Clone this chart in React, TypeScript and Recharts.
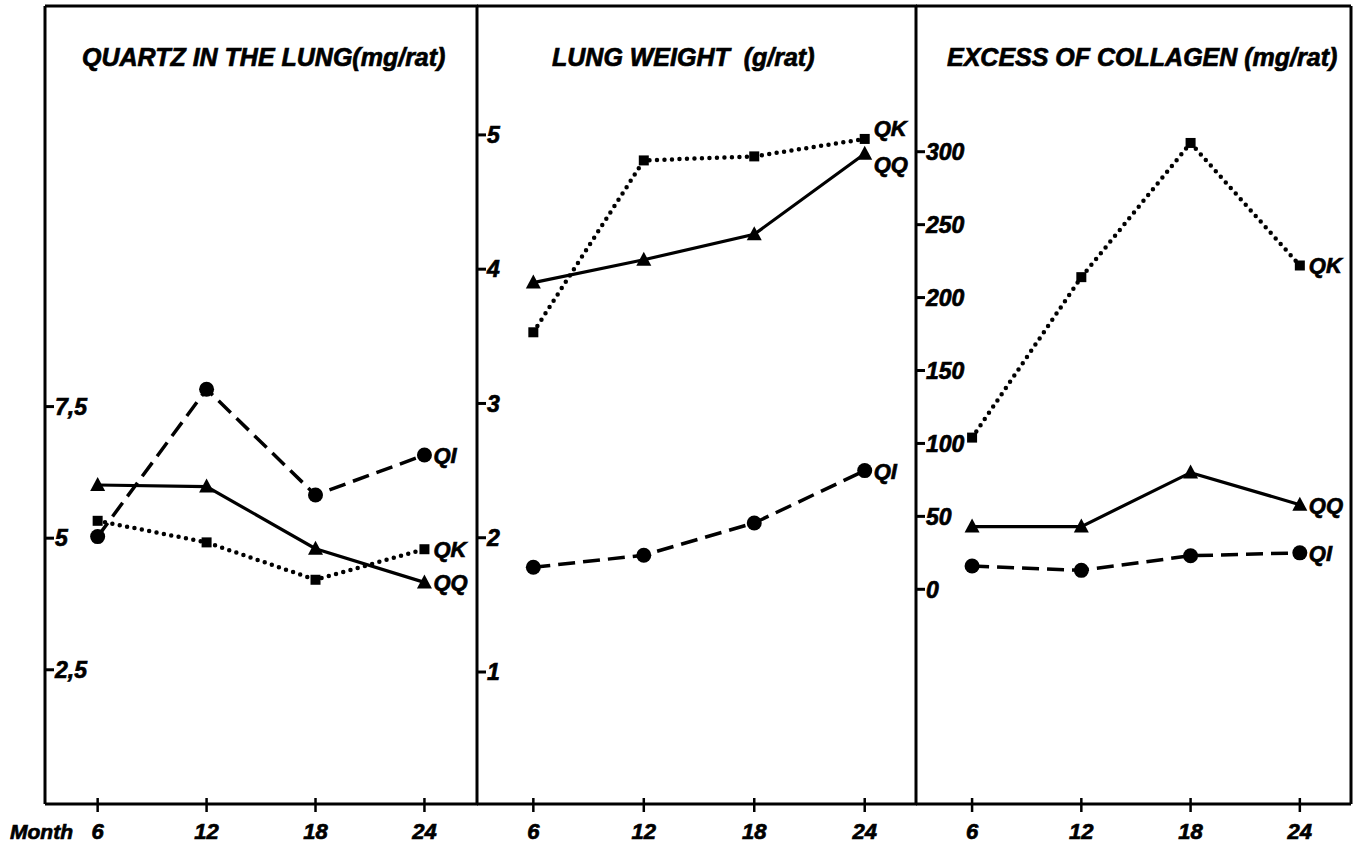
import React from "react";
import { LineChart, Line, XAxis, YAxis, ReferenceLine } from "recharts";

// months on the x axis (same for all three panels)
const months = [6, 12, 18, 24];

// quartz in the lung, mg/rat
const quartzQI = [5.03, 7.83, 5.82, 6.58];
const quartzQQ = [6.01, 5.98, 4.8, 4.16];
const quartzQK = [5.33, 4.92, 4.21, 4.79];
const quartzTicks = [2.5, 5, 7.5];

// lung weight, g/rat
const weightQI = [1.78, 1.87, 2.11, 2.5];
const weightQQ = [3.9, 4.07, 4.26, 4.86];
const weightQK = [3.53, 4.81, 4.84, 4.97];
const weightTicks = [1, 2, 3, 4, 5];

// excess of collagen, mg/rat
const collagenQI = [16, 13, 23, 25];
const collagenQQ = [43, 43, 80, 58];
const collagenQK = [104, 214, 306, 222];
const collagenTicks = [0, 50, 100, 150, 200, 250, 300];

const FONT = '"Liberation Sans", Arial, sans-serif';
const INK = "#000";
const HEIGHT = 845;
const TOP = 6;
const AXIS_Y = 804;

type SeriesKey = "QI" | "QQ" | "QK";

const seriesStyle: Record<SeriesKey, { marker: string; width: number; dash?: string; cap?: "round" }> = {
  QI: { marker: "circle", width: 3.5, dash: "17 8" },
  QQ: { marker: "triangle", width: 3.2 },
  QK: { marker: "square", width: 4.5, dash: "0 7.5", cap: "round" },
};

const buildRows = (qi: number[], qq: number[], qk: number[]) =>
  months.map((m, i) => ({ month: m, QI: qi[i], QQ: qq[i], QK: qk[i] }));

const panels = [
  {
    id: "quartz",
    title: "QUARTZ IN THE LUNG(mg/rat)",
    titleX: 82,
    axisX: 46,
    rightX: 478,
    marginLeft: 46,
    xDomain: [3.1, 26.95],
    yDomain: [-0.05, 15.11],
    ticks: quartzTicks,
    rows: buildRows(quartzQI, quartzQQ, quartzQK),
    labelDy: { QI: 0, QQ: 0, QK: 0 },
    month: true,
    rightBorder: false,
  },
  {
    id: "weight",
    title: "LUNG WEIGHT  (g/rat)",
    titleX: 552,
    axisX: 478,
    rightX: 917,
    marginLeft: 10,
    xDomain: [2.94, 26.84],
    yDomain: [0.017, 5.96],
    ticks: weightTicks,
    rows: buildRows(weightQI, weightQQ, weightQK),
    labelDy: { QI: 0, QQ: 10, QK: -11 },
    month: false,
    rightBorder: false,
  },
  {
    id: "collagen",
    title: "EXCESS OF COLLAGEN (mg/rat)",
    titleX: 947,
    axisX: 917,
    rightX: 1351,
    marginLeft: 10,
    xDomain: [2.92, 26.81],
    yDomain: [-147.2, 399.9],
    ticks: collagenTicks,
    rows: buildRows(collagenQI, collagenQQ, collagenQK),
    labelDy: { QI: 0, QQ: 0, QK: 0 },
    month: false,
    rightBorder: true,
  },
];

// heavy italic lettering, a thin stroke makes it look like the stencilled original
const textStyle = { fontFamily: FONT, fontWeight: 700, fontStyle: "italic" as const };
const textInk = { fill: INK, stroke: INK, strokeWidth: 0.7 };

function Marker({ kind, cx, cy }: { kind: string; cx: number; cy: number }) {
  if (kind === "circle") return <circle cx={cx} cy={cy} r={7.5} fill={INK} />;
  if (kind === "triangle")
    return <polygon points={`${cx},${cy - 8} ${cx - 7.5},${cy + 6} ${cx + 7.5},${cy + 6}`} fill={INK} />;
  return <rect x={cx - 5} y={cy - 5} width={10} height={10} fill={INK} />;
}

const makeDot = (key: SeriesKey, dy: number) => (p: any) => {
  const { cx, cy, index } = p;
  const last = index === months.length - 1;
  return (
    <g key={`${key}-${index}`}>
      <Marker kind={seriesStyle[key].marker} cx={cx} cy={cy} />
      {last && (
        <text x={cx + 9} y={cy + dy} dy="0.36em" fontSize={22} {...textInk} style={textStyle}>
          {key}
        </text>
      )}
    </g>
  );
};

// mirrored axis: x already sits past the inward tick mark
const yTick = (p: any) => {
  const { x, y, payload } = p;
  return (
    <text x={x} y={y} dy="0.36em" textAnchor="start" fontSize={23} {...textInk} style={textStyle}>
      {String(payload.value).replace(".", ",")}
    </text>
  );
};

const xTick = (p: any) => {
  const { x, y, payload } = p;
  return (
    <g>
      <line x1={x} x2={x} y1={y - 6} y2={y + 8} stroke={INK} strokeWidth={2.5} />
      <text x={x} y={y + 35} textAnchor="middle" fontSize={22} {...textInk} style={textStyle}>
        {payload.value}
      </text>
    </g>
  );
};

export default function App() {
  return (
    <div style={{ position: "absolute", left: 0, top: 0, width: 1354, height: HEIGHT, background: "#fff" }}>
      {panels.map((pn) => {
        const left = pn.axisX - pn.marginLeft;
        const width = pn.marginLeft + (pn.rightX - pn.axisX) + 10;
        return (
          <div key={pn.id} style={{ position: "absolute", left, top: 0 }}>
            <LineChart
              width={width}
              height={HEIGHT}
              data={pn.rows}
              margin={{ top: TOP, right: 10, bottom: 0, left: pn.marginLeft - 1 }}
            >
              <XAxis
                type="number"
                dataKey="month"
                domain={pn.xDomain}
                ticks={months}
                interval={0}
                allowDataOverflow
                height={HEIGHT - AXIS_Y}
                axisLine={{ stroke: INK, strokeWidth: 3 }}
                tickLine={false}
                tickSize={0}
                tickMargin={0}
                tick={xTick}
              />
              <YAxis
                type="number"
                domain={pn.yDomain}
                ticks={pn.ticks}
                interval={0}
                allowDataOverflow
                width={1}
                mirror
                axisLine={{ stroke: INK, strokeWidth: 3 }}
                tickLine={{ stroke: INK, strokeWidth: 3 }}
                tickSize={9}
                tickMargin={1}
                tick={yTick}
              />
              <ReferenceLine y={pn.yDomain[1]} stroke={INK} strokeWidth={3} ifOverflow="visible" />
              {pn.rightBorder && (
                <ReferenceLine x={pn.xDomain[1]} stroke={INK} strokeWidth={3} ifOverflow="visible" />
              )}
              {(["QI", "QQ", "QK"] as SeriesKey[]).map((k) => (
                <Line
                  key={k}
                  type="linear"
                  dataKey={k}
                  stroke={INK}
                  strokeWidth={seriesStyle[k].width}
                  strokeDasharray={seriesStyle[k].dash}
                  strokeLinecap={seriesStyle[k].cap}
                  dot={makeDot(k, (pn.labelDy as any)[k])}
                  activeDot={false}
                  isAnimationActive={false}
                />
              ))}
              <text x={pn.titleX - left} y={66} fontSize={25} {...textInk} style={{ ...textStyle, whiteSpace: "pre" }}>
                {pn.title}
              </text>
              {pn.month && (
                <text x={10} y={839} fontSize={21} {...textInk} style={textStyle}>
                  Month
                </text>
              )}
            </LineChart>
          </div>
        );
      })}
    </div>
  );
}
